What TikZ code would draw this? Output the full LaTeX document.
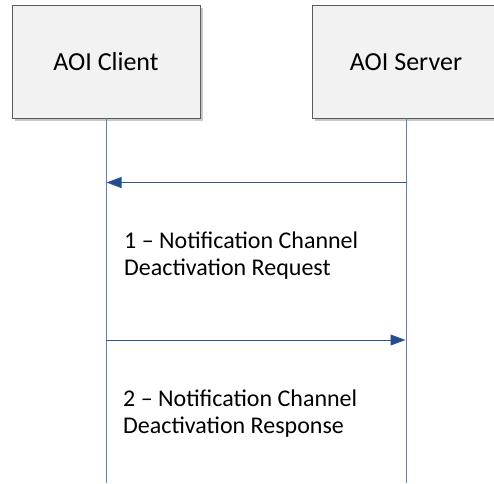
\documentclass[tikz,border=0pt]{standalone}
\usepackage{fontspec}
\setmainfont{Carlito}
\usetikzlibrary{arrows.meta,shadows}
\definecolor{boxfill}{HTML}{F2F2F2}
\definecolor{boxline}{HTML}{5A5A5A}
\definecolor{lifeline}{HTML}{5E7FB5}
\definecolor{msgline}{HTML}{2F5597}
\definecolor{arrowhead}{HTML}{1F4E8C}
\tikzset{
  actor/.style={draw=boxline, line width=0.9pt, fill=boxfill, minimum width=188pt, minimum height=113pt,
    inner sep=0pt,
    drop shadow={shadow xshift=3pt, shadow yshift=-3pt, fill=black!22, opacity=1}},
  actorlbl/.style={anchor=base, font=\fontsize{26}{30}\selectfont, inner sep=0pt},
  life/.style={draw=lifeline, line width=0.8pt},
  msg/.style={draw=msgline, line width=0.9pt, -{Triangle[length=15pt,width=11pt,fill=arrowhead]}},
  lbl/.style={anchor=base west, align=left, font=\fontsize{24}{27}\selectfont, inner sep=0pt}
}
\begin{document}
\begin{tikzpicture}[x=1pt,y=-1pt]
\useasboundingbox (0,0) rectangle (494,483);
\begin{scope}
\clip (0,0) rectangle (494,483);
\node[actor] (client) at (106,61.5) {};
\node[actor] (server) at (406,61.5) {};
\node[actorlbl] (clientlbl) at (106,70) {AOI Client};
\node[actorlbl] (serverlbl) at (406,70) {AOI Server};
\coordinate (cend) at (106,483);
\coordinate (send) at (406,483);
\draw[life] (client.south) -- (cend);
\draw[life] (server.south) -- (send);
\coordinate (m1s) at (406,182.5);
\coordinate (m1e) at (106.5,182.5);
\coordinate (m2s) at (106,340);
\coordinate (m2e) at (405.5,340);
\draw[msg] (m1s) -- (m1e);
\draw[msg] (m2s) -- (m2e);
\node[lbl] (l1) at (124,275) {1 – Notification Channel\\Deactivation Request};
\node[lbl] (l2) at (123,433) {2 – Notification Channel\\Deactivation Response};
\end{scope}
\end{tikzpicture}
\end{document}
